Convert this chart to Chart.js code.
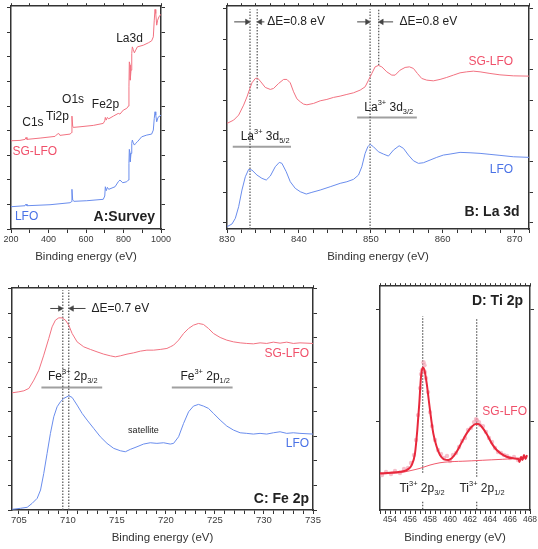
<!DOCTYPE html>
<html lang="en">
<head>
<meta charset="UTF-8">
<title>XPS spectra of LFO and SG-LFO</title>
<script src="https://cdn.jsdelivr.net/npm/chart.js"></script>
<style>
  body { margin: 0; background: #fff; }
  #wrap { position: relative; width: 538px; height: 549px; overflow: hidden; background: #fff; }
  #wrap canvas { position: absolute; }
</style>
</head>
<body>
<div id="wrap">
  <canvas id="cA"></canvas>
  <canvas id="cB"></canvas>
  <canvas id="cC"></canvas>
  <canvas id="cD"></canvas>
</div>
<script>
// ---- data (binding energy in eV, intensity in arbitrary units) ----
// A: survey
const surveySG = [[200,88.3],[248,88.7],[275,89.7],[280,91.7],[285,89.7],[355,91],[435,92.7],[447,95],[454,95.7],[461,93.7],
  [515,95],[522,96.3],[525,113],[529,103],[532,101.7],[568,102.3],[639,103.7],[692,105.7],[700,108.3],[703,111.7],[708,109],
  [714,111.7],[721,110.3],[746,113],[772,115.7],[781,115],[799,119],[817,120.7],[826,123],[829,142.3],[831,167.3],[835,164],
  [836,149],[840,159],[844,175.7],[847,182.3],[852,179.7],[858,176.3],[865,179],[874,182.3],[888,183],[906,184],[932,186.3],
  [950,188.3],[959,192.3],[964,209],[968,219.7],[972,215.7],[977,204],[982,209],[989,212.3],[1000,215]];
const surveyLFO = [[200,22.3],[275,23.3],[280,25],[285,23.3],[408,24.3],[515,26.3],[522,27.3],[525,39.7],[529,29],[536,27.7],
  [604,28.3],[692,29.7],[700,33],[703,42.3],[708,38.3],[714,41.7],[721,39.7],[755,42.3],[772,47.3],[781,49],[796,46.3],[817,47.3],
  [826,49],[829,65.7],[831,79.7],[835,75.7],[836,67.3],[840,75.7],[844,85.7],[847,89],[852,86.3],[858,84],[865,85.7],[874,87.3],
  [897,92.3],[924,94],[950,95],[959,99],[964,110.7],[968,117.3],[972,114],[977,107.3],[984,111.7],[1000,114]];

// B: La 3d
const la3dSG = [[830,105.7],[830.93,109],[831.62,114],[832.31,124],[832.78,132.3],[833.1,139],[833.47,146.3],[833.94,150.7],
  [834.26,151],[834.63,148],[835.32,141.7],[836.02,139.7],[836.48,140.7],[837.18,145.7],[837.87,149.7],[838.33,149.7],[838.8,146.3],
  [839.26,137.3],[839.72,130.3],[840.19,127.3],[840.65,125],[841.11,124.3],[842.04,125.7],[842.96,128.3],[843.89,129.7],
  [844.81,131.7],[845.74,133],[846.67,134.7],[847.59,136.3],[848.52,139],[849.21,142.3],[849.68,149],[850.14,155.7],[850.6,162.3],
  [851.06,163.7],[851.53,162.3],[852.22,157.3],[852.92,154],[853.38,154],[854.07,159],[854.77,161.7],[855.37,162.3],[855.93,160.7],
  [856.48,155.7],[857.08,150.7],[857.78,149],[858.7,148.3],[859.63,149.7],[860.56,151.7],[861.48,154],[862.41,156.3],[863.33,157.3],
  [864.26,158],[865.19,157.3],[866.57,155.7],[867.96,154.3],[869.81,153.3],[872,153]];
const la3dLFO = [[830,2.3],[830.69,5],[831.16,10.7],[831.62,22.3],[832.08,39],[832.55,52.3],[833.01,59.7],[833.47,59],[834.17,54],
  [834.86,50.7],[835.46,49],[836.02,53],[836.71,62.3],[837.27,66.7],[837.64,65.7],[838.24,57.3],[838.8,47.3],[839.49,40.7],
  [840.19,37.3],[841.02,35],[841.81,36.7],[842.96,39],[844.35,42.3],[845.74,45.7],[846.67,47.3],[847.59,49.7],[848.29,54],
  [848.75,62.3],[849.21,75.7],[849.58,82.3],[849.91,84.7],[850.37,82.3],[851.06,77.3],[851.76,75],[852.45,73],[853.15,79],
  [853.94,83.3],[854.54,80.7],[855.23,74],[855.93,68.3],[856.62,65.7],[857.31,66.3],[858.24,69],[859.17,71.7],[860.09,74],
  [861.02,75],[862.41,76.7],[863.8,76.3],[865.19,75.7],[866.57,74.7],[867.96,73.7],[869.81,72.3],[872,71.7]];

// C: Fe 2p
const fe2pSG = [[704.32,117.3],[705,118.3],[705.51,119.3],[706.02,121.7],[706.53,130],[707.04,140],[707.54,155],[708.05,171.7],
  [708.39,183.3],[708.73,190],[709.07,192.3],[709.41,192.3],[709.75,190],[710.09,185],[710.43,176.7],[710.94,168.3],[711.62,163.3],
  [712.3,160.7],[712.97,158.3],[713.65,156],[714.33,154.3],[714.84,153.3],[715.35,154.3],[716.03,156],[716.71,157.3],[717.39,159],
  [718.06,160],[718.74,160],[719.42,160.7],[720.1,161.7],[720.44,163.3],[720.78,165],[721.29,170],[721.8,176.7],[722.31,181.7],
  [722.81,185],[723.32,186.7],[723.83,185.7],[724.34,181.7],[724.85,176.7],[725.53,172.7],[726.21,170],[726.89,168.3],
  [727.57,167.3],[728.24,166.7],[728.92,166.3],[729.6,167.3],[730.28,166.7],[730.96,168],[731.64,167],[732.32,168],[732.99,166.7],
  [733.67,167.3],[735,166.7]];
const fe2pLFO = [[704.32,0.7],[705.17,1.7],[705.85,2.7],[706.36,6.7],[706.87,11.7],[707.21,20],[707.54,36.7],[707.88,56.7],
  [708.22,76.7],[708.56,93.3],[708.9,103.3],[709.24,108.3],[709.58,111.7],[710.09,114.3],[710.43,112.7],[710.94,105],[711.45,96.7],
  [711.96,90],[712.63,81.7],[713.31,73.3],[713.99,66.7],[714.67,61.7],[715.35,59.3],[715.86,58.3],[716.37,60.7],[717.05,63.3],
  [717.72,66],[718.4,67.3],[719.08,66.7],[719.76,67.3],[720.44,66],[720.78,66.7],[721.29,73.3],[721.8,86.7],[722.31,98.3],
  [722.81,104],[723.32,105.7],[723.83,104],[724.34,101.7],[724.85,96.7],[725.53,90],[726.21,84],[726.89,80],[727.57,77.3],
  [728.24,76.7],[728.92,76],[729.6,76.7],[730.28,76],[730.96,77.3],[731.64,78.3],[732.32,76.7],[732.99,77.3],[733.67,76.7],[735,76]];

// D: Ti 2p (measured points, fitted envelope, background)
const ti2pPoints = [[453.2,35],[453.6,38],[454.1,36],[454.5,39],[455,37],[455.4,41],[455.8,42],[456.1,47],[456.4,55],[456.6,70],
  [456.8,95],[457,122],[457.1,136],[457.2,140],[457.35,148],[457.45,145],[457.5,138],[457.6,132],[457.8,118],[458,98],[458.2,84],
  [458.5,70],[458.8,60],[459.1,56],[459.4,52],[459.7,54],[460,49],[460.3,55],[460.6,57],[460.9,63],[461.2,69],[461.5,72],
  [461.8,80],[462.1,82],[462.4,88],[462.6,91],[462.7,90],[462.9,88],[463,85],[463.3,84],[463.6,78],[463.9,72],[464.2,68],
  [464.5,62],[464.8,58],[465.1,57],[465.4,55],[465.7,54],[466,52],[466.4,53],[466.8,50],[467.2,52]];
const ti2pFit = [[453,36.7],[454,37.3],[455,38.3],[455.67,40],[456.17,45],[456.5,56.7],[456.73,80],[456.93,106.7],[457.1,133.3],
  [457.27,142.7],[457.43,140.7],[457.67,126.7],[458,100],[458.33,76.7],[458.67,63.3],[459,55],[459.4,50.7],[459.83,50],
  [460.17,51.7],[460.67,58.3],[461.17,67.7],[461.67,76.7],[462.17,83.3],[462.6,86],[462.83,86],[463.17,83.3],[463.67,76],
  [464.17,66.7],[464.67,60],[465.17,56],[465.67,53.3],[466.33,51.7],[466.83,51],[466.95,48],[467.1,53],[467.25,50],
  [467.4,55],[467.55,51],[467.7,55]];
const ti2pBackground = [[453,36],[455,37.3],[456,39.3],[457,41.7],[458,45],[459,47.3],[460,48.3],[461.7,49],[463.7,50],
  [465.7,51],[467.3,52.3],[467.7,53]];

// tick positions
const surveyTicks = [200,300,400,500,600,700,800,900,1000];
const la3dTicks = [830,832,834,836,838,840,842,844,846,848,850,852,854,856,858,860,862,864,866,868,870,872];
const fe2pTicks = [705,706,707,708,709,710,711,712,713,714,715,716,717,718,719,720,721,722,723,724,725,726,727,728,729,730,
  731,732,733,734,735];
const ti2pTicks = [453,453.5,454,454.5,455,455.5,456,456.5,457,457.5,458,458.5,459,459.5,460,460.5,461,461.5,462,462.5,463,
  463.5,464,464.5,465,465.5,466,466.5,467,467.5,468];

// ---- styling ----
const FAMILY = '"Liberation Sans", Arial, Helvetica, sans-serif';
const AXIS = '#333333';
const RED = '#f27281';
const BLUE = '#6a8ded';
const RED_TXT = '#f0506a';
const BLUE_TXT = '#4a72e6';
const PAD = { l: 22, r: 22, t: 10, b: 40 };

function stepTicks(start, step, end) {
  const out = [];
  for (let v = start; v <= end + 1e-6; v += step) out.push(v);
  return out;
}

function curve(data, color, width, extra) {
  return Object.assign({ data: data, showLine: true, borderColor: color, borderWidth: width, pointRadius: 0,
    tension: 0, fill: false }, extra || {});
}
function dotted(data) {
  return curve(data, '#555', 1.2, { borderDash: [1.5, 1.5] });
}
function bar(data) {
  return curve(data, '#a0a0a0', 2);
}
function arrow(data, dir) {
  return curve(data, '#444', 1, { pointRadius: [0, 3.2], pointStyle: 'triangle', pointRotation: [0, dir > 0 ? 90 : -90],
    pointBackgroundColor: '#444', pointBorderColor: '#444', pointBorderWidth: 0.5 });
}

function drawRich(ctx, x, y, parts, align, size, bold, color) {
  const fontFor = k => (bold ? 'bold ' : '') + (k ? size * 0.62 : size) + 'px ' + FAMILY;
  const items = parts.map(p => (typeof p === 'string' ? [p, null] : p));
  let w = 0;
  items.forEach(p => { ctx.font = fontFor(p[1]); w += ctx.measureText(p[0]).width; });
  let cx = align === 'right' ? x - w : align === 'center' ? x - w / 2 : x;
  ctx.fillStyle = color;
  ctx.textAlign = 'left';
  ctx.textBaseline = 'middle';
  items.forEach(p => {
    ctx.font = fontFor(p[1]);
    const dy = p[1] === 'sup' ? -size * 0.38 : p[1] === 'sub' ? size * 0.35 : 0;
    ctx.fillText(p[0], cx, y + dy);
    cx += ctx.measureText(p[0]).width;
  });
}

function notesPlugin(notes) {
  return {
    id: 'notes',
    afterDatasetsDraw(chart) {
      const ctx = chart.ctx, xs = chart.scales.x, ys = chart.scales.y;
      ctx.save();
      notes.forEach(n => {
        drawRich(ctx, xs.getPixelForValue(n.x), ys.getPixelForValue(n.y), n.parts, n.align || 'left',
          n.size || 12, !!n.bold, n.color || '#222');
      });
      ctx.restore();
    }
  };
}

function axisX(pos, xr) {
  return {
    type: 'linear', position: pos, min: xr.min, max: xr.max,
    afterBuildTicks: s => { s.ticks = xr.ticks.map(v => ({ value: v })); },
    afterFit: s => { s.height = pos === 'bottom' ? PAD.b : PAD.t; },
    grid: { drawOnChartArea: false, drawTicks: true, tickLength: pos === 'bottom' ? 4 : 3, tickColor: AXIS, tickWidth: 1 },
    border: { display: true, color: AXIS, width: 1.5 },
    ticks: { autoSkip: false, maxRotation: 0, minRotation: 0, padding: 1, color: '#3a3a3a',
      font: { family: FAMILY, size: xr.font },
      callback: v => (pos === 'bottom' && xr.label(v)) ? String(v) : '' },
    title: pos === 'bottom'
      ? { display: true, text: 'Binding energy (eV)', color: AXIS, font: { family: FAMILY, size: 11.5 }, padding: { top: 0, bottom: 5 } }
      : { display: false }
  };
}
function axisY(pos, max, ticks) {
  return {
    type: 'linear', position: pos, min: 0, max: max,
    afterBuildTicks: s => { s.ticks = ticks.map(v => ({ value: v })); },
    afterFit: s => { s.width = pos === 'left' ? PAD.l : PAD.r; },
    grid: { drawOnChartArea: false, drawTicks: true, tickLength: 4, tickColor: AXIS, tickWidth: 1 },
    border: { display: true, color: AXIS, width: 1.5 },
    ticks: { display: true, callback: () => '' }
  };
}

function makePanel(id, box, xr, yTicks, datasets, notes) {
  const cv = document.getElementById(id);
  const w = box.r - box.l + PAD.l + PAD.r;
  const h = box.b - box.t + PAD.t + PAD.b;
  cv.width = w; cv.height = h;
  cv.style.width = w + 'px'; cv.style.height = h + 'px';
  cv.style.left = (box.l - PAD.l) + 'px';
  cv.style.top = (box.t - PAD.t) + 'px';
  const yMax = box.b - box.t;
  return new Chart(cv.getContext('2d'), {
    type: 'scatter',
    data: { datasets: datasets },
    options: {
      responsive: false, animation: false, events: [],
      layout: { padding: 0 },
      plugins: { legend: { display: false }, tooltip: { enabled: false } },
      scales: {
        x: axisX('bottom', xr),
        x2: axisX('top', xr),
        y: axisY('left', yMax, yTicks),
        y2: axisY('right', yMax, yTicks)
      }
    },
    plugins: [notesPlugin(notes)]
  });
}

// ---- A: Survey ----
makePanel('cA', { l: 11, t: 6, r: 161, b: 229 },
  { min: 200, max: 1000, ticks: surveyTicks, label: v => v % 200 === 0, font: 9 },
  stepTicks(0, 12.3, 223),
  [curve(surveySG, RED, 1), curve(surveyLFO, BLUE, 1)],
  [
    { x: 317, y: 106, parts: ['C1s'], align: 'center' },
    { x: 448, y: 112, parts: ['Ti2p'], align: 'center' },
    { x: 531, y: 129, parts: ['O1s'], align: 'center' },
    { x: 704, y: 124, parts: ['Fe2p'], align: 'center' },
    { x: 832, y: 190, parts: ['La3d'], align: 'center' },
    { x: 208, y: 77, parts: ['SG-LFO'], color: RED_TXT },
    { x: 221, y: 12, parts: ['LFO'], color: BLUE_TXT },
    { x: 968, y: 12, parts: ['A:Survey'], align: 'right', bold: true, size: 14 }
  ]);

// ---- B: La 3d ----
const la52 = ['La', ['3+', 'sup'], ' 3d', ['5/2', 'sub']];
const la32 = ['La', ['3+', 'sup'], ' 3d', ['3/2', 'sub']];
makePanel('cB', { l: 227, t: 6, r: 529, b: 229 },
  { min: 830, max: 872, ticks: la3dTicks, label: v => v % 10 === 0, font: 9.5 },
  stepTicks(6.3, 15.3, 223),
  [
    curve(la3dSG, RED, 1), curve(la3dLFO, BLUE, 1),
    dotted([[833.2, 0], [833.2, 220]]), dotted([[834.2, 140.7], [834.2, 220]]),
    dotted([[849.9, 0], [849.9, 220]]), dotted([[851.1, 164], [851.1, 220]]),
    arrow([[831.0, 207.3], [832.8, 207.3]], 1), arrow([[835.2, 207.3], [834.6, 207.3]], -1),
    arrow([[848.1, 207.3], [849.5, 207.3]], 1), arrow([[853.1, 207.3], [851.5, 207.3]], -1),
    bar([[830.8, 82.3], [838.9, 82.3]]), bar([[848.1, 111.7], [856.4, 111.7]])
  ],
  [
    { x: 835.6, y: 207.3, parts: ['\u0394E=0.8 eV'] },
    { x: 854.0, y: 207.3, parts: ['\u0394E=0.8 eV'] },
    { x: 835.3, y: 92.3, parts: la52, align: 'center' },
    { x: 852.5, y: 121.7, parts: la32, align: 'center' },
    { x: 869.8, y: 167.3, parts: ['SG-LFO'], align: 'right', color: RED_TXT },
    { x: 869.8, y: 59, parts: ['LFO'], align: 'right', color: BLUE_TXT },
    { x: 870.7, y: 17.3, parts: ['B: La 3d'], align: 'right', bold: true, size: 14 }
  ]);

// ---- C: Fe 2p ----
const fe32 = ['Fe', ['3+', 'sup'], ' 2p', ['3/2', 'sub']];
const fe12 = ['Fe', ['3+', 'sup'], ' 2p', ['1/2', 'sub']];
makePanel('cC', { l: 12, t: 288, r: 313, b: 510 },
  { min: 704.3, max: 735, ticks: fe2pTicks, label: v => v % 5 === 0, font: 9.5 },
  stepTicks(0, 24.6, 222),
  [
    curve(fe2pSG, RED, 1), curve(fe2pLFO, BLUE, 1),
    dotted([[709.48, 0], [709.48, 220]]), dotted([[710.09, 0], [710.09, 220]]),
    arrow([[708.2, 201.7], [709.2, 201.7]], 1), arrow([[711.8, 201.7], [710.4, 201.7]], -1),
    bar([[707.3, 122.7], [713.5, 122.7]]), bar([[720.6, 122.7], [726.8, 122.7]])
  ],
  [
    { x: 712.4, y: 201.7, parts: ['\u0394E=0.7 eV'] },
    { x: 710.5, y: 133.3, parts: fe32, align: 'center' },
    { x: 724.0, y: 133.3, parts: fe12, align: 'center' },
    { x: 717.7, y: 79.3, parts: ['satellite'], align: 'center', size: 9 },
    { x: 734.6, y: 156, parts: ['SG-LFO'], align: 'right', color: RED_TXT },
    { x: 734.6, y: 66, parts: ['LFO'], align: 'right', color: BLUE_TXT },
    { x: 734.6, y: 11, parts: ['C: Fe 2p'], align: 'right', bold: true, size: 14 }
  ]);

// ---- D: Ti 2p ----
const ti32 = ['Ti', ['3+', 'sup'], ' 2p', ['3/2', 'sub']];
const ti12 = ['Ti', ['3+', 'sup'], ' 2p', ['1/2', 'sub']];
makePanel('cD', { l: 380, t: 286, r: 530, b: 510 },
  { min: 453, max: 468, ticks: ti2pTicks, label: v => Number.isInteger(v) && v % 2 === 0, font: 8.5 },
  [89, 201],
  [
    curve(ti2pFit, '#e8283c', 2, { cubicInterpolationMode: 'monotone' }),
    curve(ti2pBackground, '#f05a6c', 1, { tension: 0.3 }),
    { data: ti2pPoints, showLine: false, pointRadius: 2.2, pointBorderWidth: 0,
      pointBackgroundColor: 'rgba(240,150,170,0.6)' },
    dotted([[457.27, 37.3], [457.27, 194]]), dotted([[457.27, 0.7], [457.27, 8.3]]),
    dotted([[462.67, 33.3], [462.67, 191.7]]), dotted([[462.67, 0.7], [462.67, 8.3]])
  ],
  [
    { x: 457.2, y: 21.7, parts: ti32, align: 'center' },
    { x: 463.2, y: 21.7, parts: ti12, align: 'center' },
    { x: 467.7, y: 98.3, parts: ['SG-LFO'], align: 'right', color: RED_TXT },
    { x: 467.3, y: 209.3, parts: ['D: Ti 2p'], align: 'right', bold: true, size: 14 }
  ]);
</script>
</body>
</html>
